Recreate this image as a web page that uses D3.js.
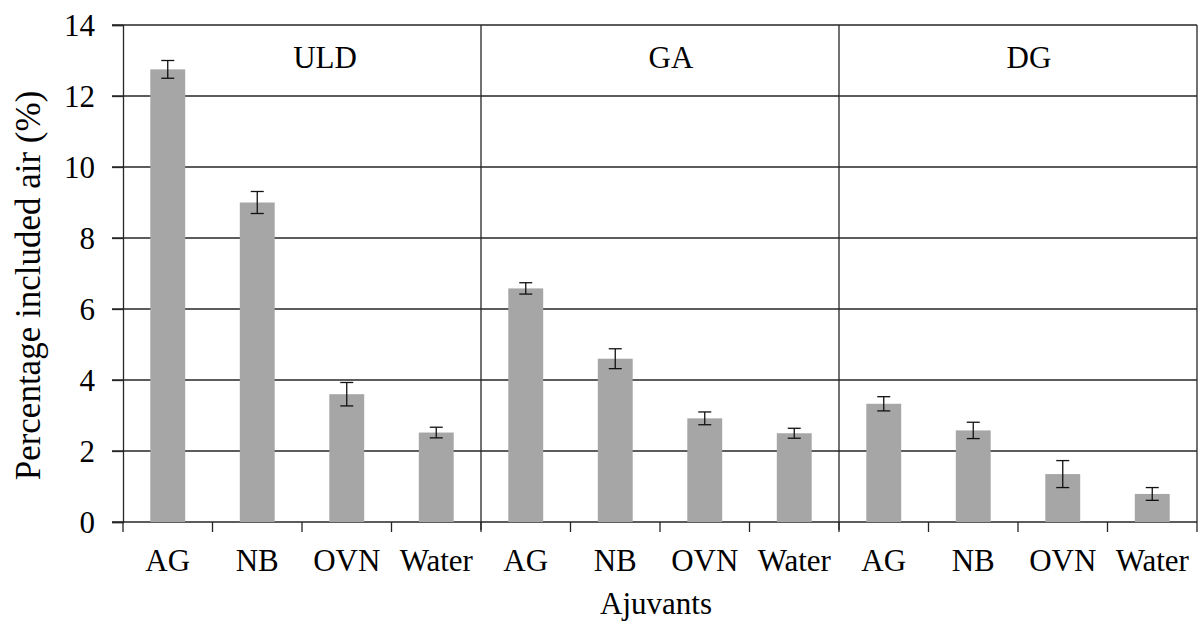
<!DOCTYPE html>
<html>
<head>
<meta charset="utf-8">
<script src="https://cdn.jsdelivr.net/npm/d3@7"></script>
<style>
  body { margin: 0; background: #fff; }
  text { font-family: 'Liberation Serif', serif; }
</style>
</head>
<body>
<script>
// Data
const groups = ["ULD", "GA", "DG"];
const adjuvants = ["AG", "NB", "OVN", "Water"];
const uldMeans = [12.75, 9.0, 3.6, 2.52];
const uldErrors = [0.25, 0.31, 0.33, 0.15];
const gaMeans = [6.58, 4.6, 2.92, 2.5];
const gaErrors = [0.16, 0.28, 0.18, 0.14];
const dgMeans = [3.33, 2.58, 1.35, 0.79];
const dgErrors = [0.2, 0.23, 0.38, 0.18];
const yTicks = [0, 2, 4, 6, 8, 10, 12, 14];

const allMeans = [uldMeans, gaMeans, dgMeans];
const allErrors = [uldErrors, gaErrors, dgErrors];

// flatten into one row per bar
const rows = [];
groups.forEach((g, gi) => {
    adjuvants.forEach((a, ai) => {
        rows.push({ id: g + "-" + a, group: g, adj: a, value: allMeans[gi][ai], err: allErrors[gi][ai] });
    });
});

const width = 1204, height = 621;
const margin = { top: 25, right: 7, bottom: 99, left: 123 };
const innerW = width - margin.left - margin.right;
const innerH = height - margin.top - margin.bottom;
const serif = "Liberation Serif";

const svg = d3.select("body").append("svg")
    .attr("width", width)
    .attr("height", height)
    .attr("font-family", serif);

const g = svg.append("g")
    .attr("transform", `translate(${margin.left},${margin.top})`);

const x = d3.scaleBand()
    .domain(rows.map(d => d.id))
    .range([0, innerW])
    .padding(0);

const y = d3.scaleLinear()
    .domain([0, 14])
    .range([innerH, 0]);

const lineColor = "#262626";
const lineW = 1.3;

// gridlines (extend out past the axis like the tick marks)
g.selectAll("line.grid")
    .data(yTicks)
    .enter().append("line")
    .attr("class", "grid")
    .attr("x1", -11)
    .attr("x2", innerW)
    .attr("y1", d => y(d))
    .attr("y2", d => y(d))
    .attr("stroke", lineColor)
    .attr("stroke-width", lineW);

// y axis
const yAxis = g.append("g")
    .call(d3.axisLeft(y).tickValues(yTicks).tickSize(11).tickPadding(17).tickFormat(d3.format("d")));
yAxis.attr("font-family", serif).attr("font-size", 31);
yAxis.select(".domain").attr("stroke", lineColor).attr("stroke-width", lineW);
yAxis.selectAll(".tick line").attr("stroke", lineColor).attr("stroke-width", lineW);
yAxis.selectAll("text")
    .attr("font-family", serif)
    .attr("fill", "#000")
    .attr("dy", "0.34em");

// right frame
g.append("line")
    .attr("x1", innerW).attr("x2", innerW)
    .attr("y1", 0).attr("y2", innerH)
    .attr("stroke", lineColor).attr("stroke-width", lineW);

// group separators
groups.slice(1).forEach(gr => {
    const xs = x(gr + "-" + adjuvants[0]);
    g.append("line")
        .attr("x1", xs).attr("x2", xs)
        .attr("y1", 0).attr("y2", innerH + 8)
        .attr("stroke", lineColor).attr("stroke-width", lineW);
});

// x axis: tick marks at category boundaries
const boundaries = rows.map(d => x(d.id)).concat([innerW]);
g.selectAll("line.xtick")
    .data(boundaries)
    .enter().append("line")
    .attr("class", "xtick")
    .attr("x1", d => d).attr("x2", d => d)
    .attr("y1", innerH).attr("y2", innerH + 10)
    .attr("stroke", lineColor).attr("stroke-width", lineW);

// bars
const barW = x.bandwidth() * 0.39;
g.selectAll("rect.bar")
    .data(rows)
    .enter().append("rect")
    .attr("class", "bar")
    .attr("x", d => x(d.id) + (x.bandwidth() - barW) / 2)
    .attr("y", d => y(d.value))
    .attr("width", barW)
    .attr("height", d => innerH - y(d.value))
    .attr("fill", "#a6a6a6");

// error bars
const capW = 13;
const eb = g.selectAll("g.err")
    .data(rows)
    .enter().append("g")
    .attr("class", "err")
    .attr("transform", d => `translate(${x(d.id) + x.bandwidth() / 2},0)`);
eb.append("line")
    .attr("y1", d => y(d.value + d.err))
    .attr("y2", d => y(d.value - d.err))
    .attr("stroke", "#111").attr("stroke-width", 1.3);
eb.append("line")
    .attr("x1", -capW / 2).attr("x2", capW / 2)
    .attr("y1", d => y(d.value + d.err)).attr("y2", d => y(d.value + d.err))
    .attr("stroke", "#111").attr("stroke-width", 1.3);
eb.append("line")
    .attr("x1", -capW / 2).attr("x2", capW / 2)
    .attr("y1", d => y(d.value - d.err)).attr("y2", d => y(d.value - d.err))
    .attr("stroke", "#111").attr("stroke-width", 1.3);

// category labels
g.selectAll("text.cat")
    .data(rows)
    .enter().append("text")
    .attr("class", "cat")
    .attr("x", d => x(d.id) + x.bandwidth() / 2)
    .attr("y", innerH + 49)
    .attr("text-anchor", "middle")
    .attr("font-family", serif)
    .attr("font-size", 31)
    .text(d => d.adj);

// group labels inside the panels
const labelShift = { ULD: 23, GA: 11, DG: 11 };
groups.forEach(gr => {
    const x0 = x(gr + "-" + adjuvants[0]);
    const x1 = x(gr + "-" + adjuvants[adjuvants.length - 1]) + x.bandwidth();
    g.append("text")
        .attr("x", (x0 + x1) / 2 + labelShift[gr])
        .attr("y", 43)
        .attr("text-anchor", "middle")
        .attr("font-family", serif)
        .attr("font-size", 31)
        .text(gr);
});

// axis titles
svg.append("text")
    .attr("x", margin.left + innerW / 2 - 4)
    .attr("y", 614)
    .attr("text-anchor", "middle")
    .attr("font-family", serif)
    .attr("font-size", 31)
    .text("Ajuvants");

svg.append("text")
    .attr("transform", `translate(40,${margin.top + innerH / 2 + 12}) rotate(-90)`)
    .attr("text-anchor", "middle")
    .attr("font-family", serif)
    .attr("font-size", 35)
    .text("Percentage included air (%)");
</script>
</body>
</html>
